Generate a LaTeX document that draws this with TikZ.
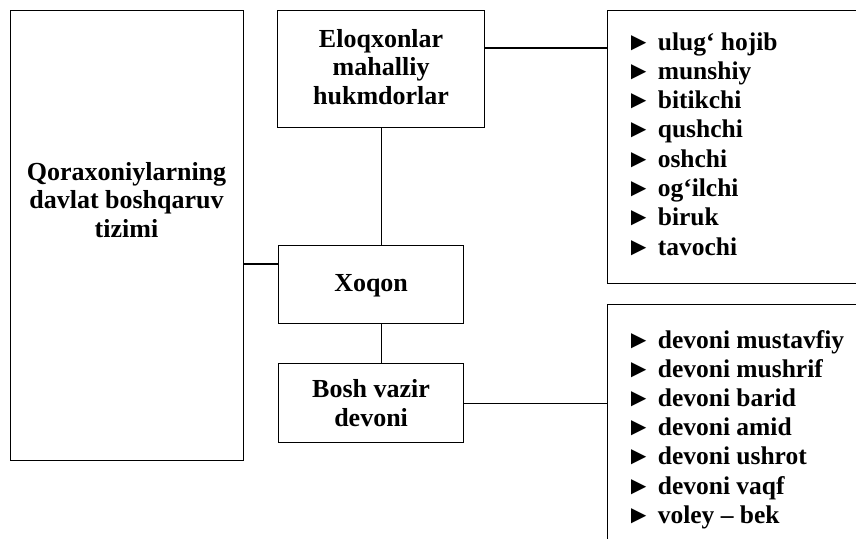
\documentclass[tikz,border=0pt]{standalone}
\usepackage{fontspec}
\setmainfont{Liberation Serif}
\begin{document}
\begin{tikzpicture}[x=1pt,y=-1pt,
  box/.style={draw,line width=1.2pt,rectangle,inner sep=0pt,anchor=north west},
  txt/.style={align=center,font=\fontsize{26}{28.5}\selectfont\bfseries,inner sep=0pt},
  item/.style={anchor=base west,inner sep=0pt,font=\fontsize{25.5}{29}\selectfont\bfseries},
  conn/.style={line width=1.2pt}]
\useasboundingbox (0,0) rectangle (856,538);
\begin{scope}
\clip (0,0) rectangle (856,538);
\node[box,minimum width=233pt,minimum height=450pt] (sys) at (10,10) {};
\node[txt] (systext) at (126.5,200) {Qoraxoniylarning\\davlat boshqaruv\\tizimi};
\node[box,minimum width=207pt,minimum height=117pt] (elo) at (277,10) {};
\node[txt] (elotext) at ([yshift=2pt]elo.center) {Eloqxonlar\\mahalliy\\hukmdorlar};
\node[box,minimum width=185pt,minimum height=78pt] (xoq) at (278,245) {};
\node[txt] (xoqtext) at ([yshift=-1.5pt]xoq.center) {Xoqon};
\node[box,minimum width=185pt,minimum height=79pt] (bosh) at (278,363) {};
\node[txt] (boshtext) at (bosh.center) {Bosh vazir\\devoni};
\node[box,minimum width=300pt,minimum height=273pt] (tlist) at (607,10) {};
\node[box,minimum width=300pt,minimum height=300pt] (blist) at (607,304) {};
\foreach \t [count=\i] in {ulug‘ hojib,munshiy,bitikchi,qushchi,oshchi,og‘ilchi,biruk,tavochi}
  \node[item] (ti\i) at (626,{50+(\i-1)*29.3}) {► \t};
\foreach \t [count=\i] in {devoni mustavfiy,devoni mushrif,devoni barid,devoni amid,devoni ushrot,devoni vaqf,voley – bek}
  \node[item] (bi\i) at (626,{348+(\i-1)*29.2}) {► \t};
\coordinate (j1) at (278,264);
\coordinate (j2) at (484,48);
\draw[conn] (sys.east |- j1) -- (j1);
\draw[conn] (elo.south) -- (elo.south |- xoq.north);
\draw[conn] (elo.south |- xoq.south) -- (elo.south |- bosh.north);
\draw[conn] (j2) -- (j2 -| tlist.west);
\draw[conn] (bosh.east) -- (bosh.east -| blist.west);
\end{scope}
\end{tikzpicture}
\end{document}
